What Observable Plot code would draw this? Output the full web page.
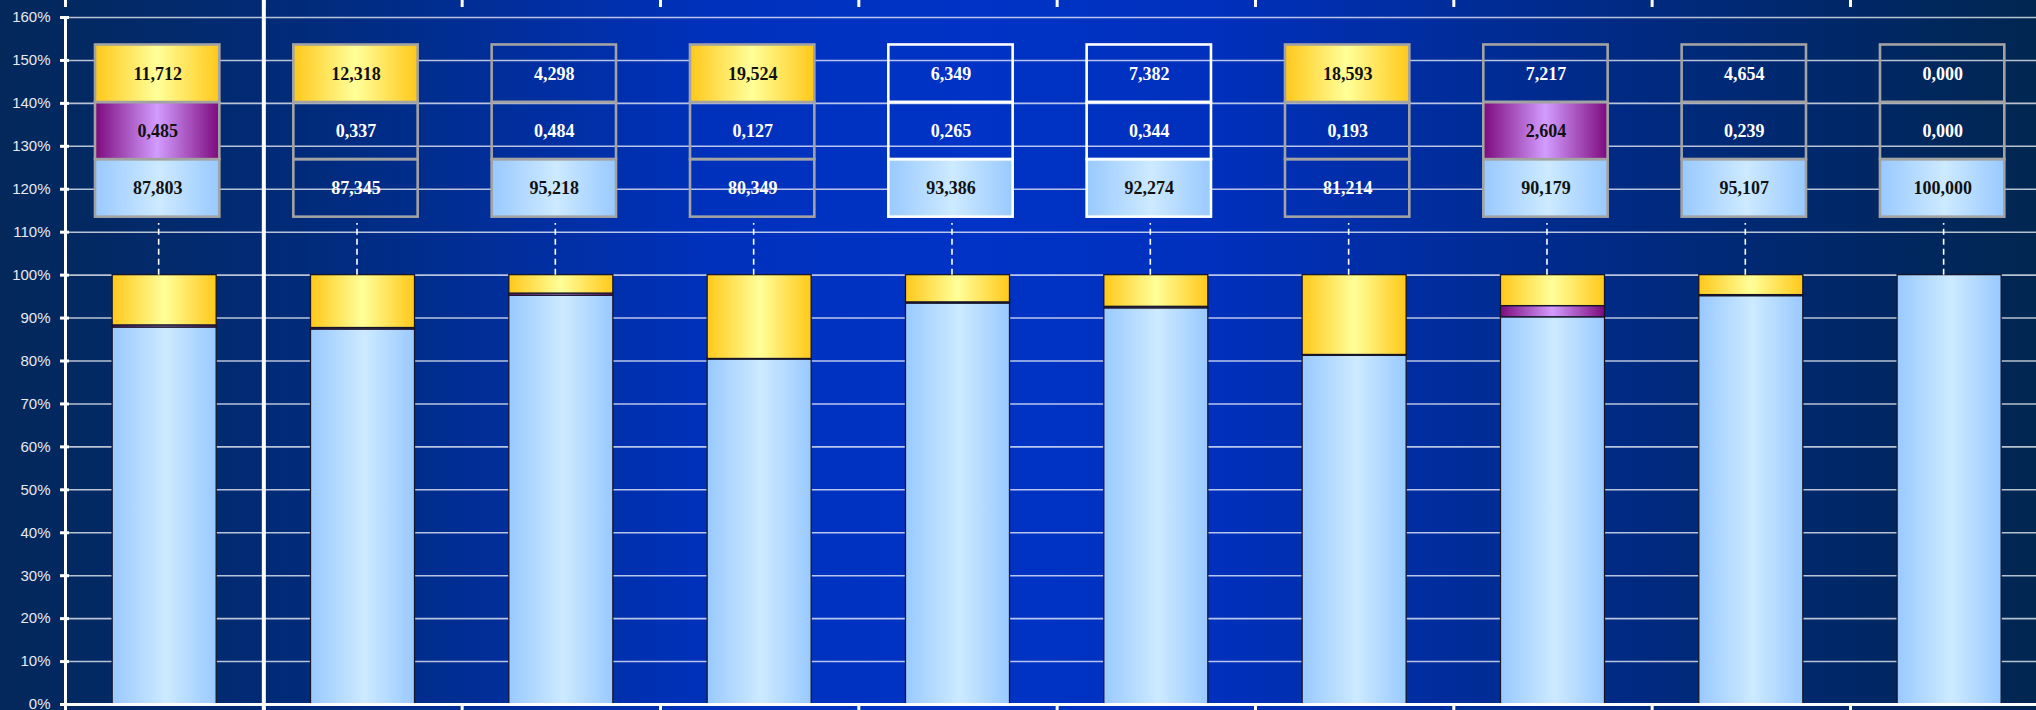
<!DOCTYPE html>
<html>
<head>
<meta charset="utf-8">
<script src="https://cdn.jsdelivr.net/npm/d3@7"></script>
<script src="https://cdn.jsdelivr.net/npm/@observablehq/plot@0.6"></script>
<style>
  html, body { margin: 0; padding: 0; background: #012652; }
  #chart svg { display: block; }
</style>
</head>
<body>
<div id="chart"></div>
<script>
// ---- data ----
const categories = ["Total", "Group 1", "Group 2", "Group 3", "Group 4", "Group 5", "Group 6", "Group 7", "Group 8", "Group 9"];
const seriesKeys = ["blue", "purple", "yellow"]; // bottom -> top
const valuesBlue   = [87.803, 87.345, 95.218, 80.349, 93.386, 92.274, 81.214, 90.179, 95.107, 100.000];
const valuesPurple = [0.485, 0.337, 0.484, 0.127, 0.265, 0.344, 0.193, 2.604, 0.239, 0.000];
const valuesYellow = [11.712, 12.318, 4.298, 19.524, 6.349, 7.382, 18.593, 7.217, 4.654, 0.000];
const highlightBlue   = [true, false, true, false, true, true, false, true, true, true];
const highlightPurple = [true, false, false, false, false, false, false, true, false, false];
const highlightYellow = [true, true, false, true, false, false, true, false, false, false];
const yTickValues = [0, 10, 20, 30, 40, 50, 60, 70, 80, 90, 100, 110, 120, 130, 140, 150, 160];

// ---- derived tables ----
const valuesBy = {blue: valuesBlue, purple: valuesPurple, yellow: valuesYellow};
const highlightBy = {blue: highlightBlue, purple: highlightPurple, yellow: highlightYellow};
const grad = {blue: "url(#gBlue)", purple: "url(#gPurple)", yellow: "url(#gYellow)"};
const whiteFramed = new Set([4, 5]);
// table rows (layout): bottom, middle, top
const rowBounds = {blue: [113.5, 126.9], purple: [126.9, 140.2], yellow: [140.2, 153.6]};

const segs = [];
const cells = [];
categories.forEach((c, i) => {
  let base = 0;
  seriesKeys.forEach(k => {
    const v = valuesBy[k][i];
    if (v > 0) segs.push({i, key: k, y1: base, y2: base + v});
    base += v;
    cells.push({i, key: k, v, hl: highlightBy[k][i],
      lo: rowBounds[k][0], hi: rowBounds[k][1],
      frame: whiteFramed.has(i) ? "#ffffff" : "#a3a3a3"});
  });
});
const fmt = v => d3.format(".3f")(v).replace(".", ",");
const idx = d3.range(categories.length);

const chart = Plot.plot({
  width: 2036,
  height: 710,
  marginLeft: 65,
  marginRight: 0,
  marginTop: 17,
  marginBottom: 6,
  x: {type: "linear", domain: [0, categories.length], range: [65, 2048.3], axis: null},
  y: {domain: [0, 160], axis: null},
  color: {type: "identity"},
  style: {
    background: "linear-gradient(to right, #04285a 0%, #012b7a 15%, #0031bc 35%, #0033c6 48%, #0030bc 60%, #002a82 80%, #012650 100%)",
    overflow: "hidden"
  },
  marks: [
    Plot.ruleY(yTickValues.filter(v => v > 0), {stroke: "#ffffff", strokeOpacity: 0.72, strokeWidth: 1.6}),
    Plot.rectY(segs, {
      x1: d => d.i, x2: d => d.i + 1, y1: "y1", y2: "y2",
      fill: d => grad[d.key], stroke: "#16162a", strokeWidth: 1.3,
      insetLeft: 47.15, insetRight: 47.15
    }),
    Plot.ruleX(idx, {x: d => d + 0.5, y1: 100, y2: 112, stroke: "#ffffff", strokeWidth: 1.6, strokeDasharray: "6,4", dx: -6}),
    Plot.rect(cells, {
      x1: d => d.i, x2: d => d.i + 1, y1: "lo", y2: "hi",
      fill: d => d.hl ? grad[d.key] : "none",
      stroke: "frame", strokeWidth: 2.6,
      insetLeft: 37, insetRight: 37, dx: -7
    }),
    Plot.text(cells, {
      x: d => d.i + 0.5, y: d => (d.lo + d.hi) / 2, text: d => fmt(d.v),
      fill: d => d.hl ? "#111111" : "#ffffff",
      fontSize: 18, fontWeight: "bold", fontFamily: "Liberation Serif, 'Times New Roman', serif",
      dx: -7
    }),
    Plot.ruleX([0], {stroke: "#ffffff", strokeWidth: 3}),
    Plot.axisY({
      ticks: yTickValues, tickFormat: d => d + "%",
      tickSize: 9, tickPadding: 10, dx: 4,
      stroke: "#ffffff", strokeWidth: 3, fill: "#e8e8ee",
      fontSize: 15, fontFamily: "Liberation Sans, Arial, sans-serif", label: null
    }),
    Plot.ruleY([0], {stroke: "#ffffff", strokeWidth: 3}),
    Plot.ruleX([1], {stroke: "#ffffff", strokeWidth: 4, insetTop: -17, insetBottom: -6}),
    Plot.ruleX(idx, {x: d => d, y1: 160, y2: 160, insetTop: -17, insetBottom: 10, stroke: "#ffffff", strokeWidth: 3}),
    Plot.ruleX(idx, {x: d => d, y1: 0, y2: 0, insetTop: 0, insetBottom: -6, stroke: "#ffffff", strokeWidth: 3})
  ]
});

// gradient definitions for the fills
const defs = d3.select(chart).insert("defs", ":first-child");
function addGrad(id, edge, center, pos) {
  const g = defs.append("linearGradient").attr("id", id).attr("x1", "0").attr("x2", "1").attr("y1", "0").attr("y2", "0");
  g.append("stop").attr("offset", "0").attr("stop-color", edge);
  g.append("stop").attr("offset", pos).attr("stop-color", center);
  g.append("stop").attr("offset", "1").attr("stop-color", edge);
}
addGrad("gBlue", "#99c9ff", "#cdeaff", "0.52");
addGrad("gPurple", "#7d0a7d", "#d29cff", "0.5");
addGrad("gYellow", "#ffc81a", "#ffff99", "0.5");

document.getElementById("chart").appendChild(chart);
</script>
</body>
</html>
